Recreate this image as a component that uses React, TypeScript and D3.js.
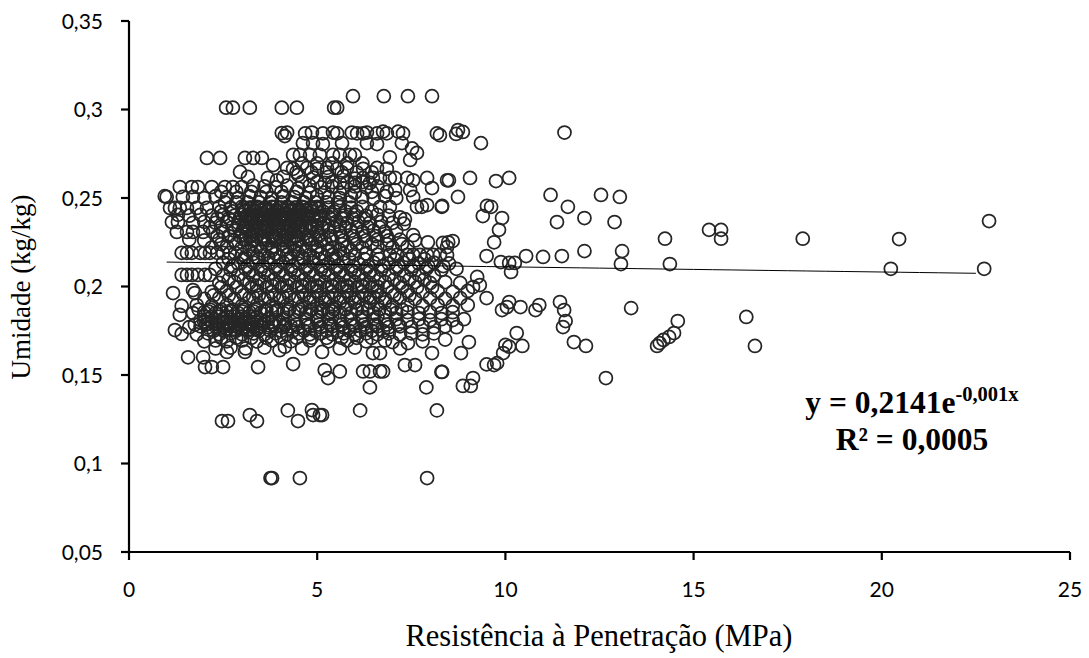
import React from 'react';
import * as d3 from 'd3';

// ---- tick values / labels ----
const xTicks = [0, 5, 10, 15, 20, 25];
const xTickLabels = ['0', '5', '10', '15', '20', '25'];
const yTicks = [0.05, 0.1, 0.15, 0.2, 0.25, 0.3, 0.35];
const yTickLabels = ['0,05', '0,1', '0,15', '0,2', '0,25', '0,3', '0,35'];

// ---- trend line (exponential fit) ----
const trendA = 0.2141;
const trendB = -0.0014;
const trendRange = [1.0, 22.7];

// ---- data: [Resistência (MPa), Umidade (kg/kg)] ----
const pontosTopo: [number, number][] = [
  [2.58,0.301],[2.76,0.301],[3.21,0.301],[4.06,0.301],[4.46,0.301],[5.45,0.301],[5.53,0.301],
  [5.95,0.3075],[6.77,0.3075],[7.41,0.3075],[8.05,0.3075],
  [4.06,0.2867],[4.14,0.285],[4.2,0.287],[4.68,0.2865],[4.86,0.287],[5.15,0.2865],[5.42,0.287],[5.53,0.2865],[5.92,0.287],[6.06,0.2865],[6.22,0.2865],[6.32,0.287],[6.59,0.2865],[6.75,0.2875],[6.85,0.2865],[7.15,0.2875],[7.28,0.2865],[8.18,0.2865],[8.26,0.2855],[8.74,0.2884],[8.87,0.2873],[8.69,0.2862],
  [4.62,0.281],[4.89,0.281],[5.15,0.2805],[5.66,0.281],[6.32,0.281],[6.59,0.2805],[7.25,0.281],[7.52,0.278],[7.65,0.2755],[9.35,0.281],[11.57,0.287],
  [2.07,0.2726],[2.42,0.2726],[3.08,0.2726],[3.3,0.2726],[3.53,0.2726],[4.36,0.2743],[4.54,0.2743],[4.81,0.2743],[5.07,0.2743],[5.42,0.2743],[5.6,0.2743],[5.87,0.2743],[6.0,0.2743],[6.93,0.273],[7.47,0.2715],
  [4.6,0.2695],[5.0,0.2695],[5.4,0.2695],[5.8,0.2695],[6.2,0.2695],
];

const pontosSuperior: [number, number][] = [
  [3.83,0.2686],[2.95,0.2647],[3.16,0.2619],[3.69,0.2613],[3.93,0.26],[4.2,0.267],[4.36,0.2665],[4.73,0.267],[5.0,0.2665],[5.26,0.267],[5.53,0.2665],[5.79,0.267],[6.22,0.2665],[6.59,0.267],[6.85,0.2665],
  [4.1,0.262],[4.5,0.263],[4.9,0.2615],[5.3,0.262],[5.7,0.2625],[6.0,0.261],
  [6.22,0.2613],[6.48,0.2613],[6.67,0.2613],[6.93,0.2613],[7.07,0.2613],[7.39,0.2613],[7.55,0.26],[7.92,0.2613],[8.45,0.26],[8.5,0.26],[9.06,0.2613],[9.75,0.2596],[10.1,0.2613],
  [5.2,0.2585],[5.6,0.2585],[6.0,0.2585],[6.4,0.2585],
  [1.35,0.2562],[1.67,0.2562],[1.83,0.2562],[2.2,0.2562],[2.55,0.2562],[2.76,0.2562],[3.0,0.2562],[3.3,0.257],[3.6,0.2565],[3.9,0.256],[4.2,0.257],[4.5,0.2555],[4.8,0.257],[5.1,0.256],[5.4,0.2565],[5.7,0.2555],[6.0,0.2565],[6.3,0.256],[6.6,0.2565],[7.07,0.2545],[7.47,0.2545],[8.05,0.2556],
  [4.6,0.259],[5.0,0.259],[5.4,0.259],[5.8,0.259],[6.2,0.259],[4.8,0.253],[5.2,0.253],[5.6,0.253],[6.0,0.253],
  [1.0,0.2506],[0.95,0.251],[1.43,0.2506],[1.7,0.2506],[2.0,0.25],[2.3,0.251],[2.6,0.2505],[2.9,0.25],[3.2,0.251],[3.5,0.2505],[3.8,0.25],[4.1,0.251],[4.4,0.2505],[4.7,0.25],[5.0,0.251],[5.3,0.2505],[5.6,0.25],[5.9,0.251],[6.2,0.2505],[6.5,0.25],[6.8,0.251],[7.1,0.25],[7.55,0.2506],[8.74,0.2506],[11.2,0.2517],[12.54,0.2517],[13.04,0.2506],
];

const pontosMedio: [number, number][] = [
  [1.09,0.2444],[1.22,0.2444],[1.35,0.2444],[1.54,0.2444],[1.8,0.2444],[2.07,0.2444],[2.4,0.245],[2.7,0.2445],[3.0,0.245],[3.2,0.2445],[3.4,0.245],[3.6,0.2445],[3.8,0.245],[4.0,0.2445],[4.2,0.245],[4.4,0.2445],[4.6,0.245],[4.8,0.2445],[5.0,0.245],[5.3,0.2445],[5.6,0.245],[5.9,0.2445],[6.2,0.245],[6.67,0.245],[6.93,0.245],[7.65,0.245],[7.78,0.245],[7.92,0.246],[8.31,0.245],[8.32,0.2455],[9.51,0.2455],[9.62,0.245],[11.66,0.245],
  [1.3,0.2405],[1.6,0.24],[1.9,0.2405],[2.2,0.24],[2.5,0.2405],[2.8,0.24],[3.0,0.2405],[3.15,0.24],[3.3,0.2405],[3.45,0.24],[3.6,0.2405],[3.75,0.24],[3.9,0.2405],[4.05,0.24],[4.2,0.2405],[4.35,0.24],[4.5,0.2405],[4.7,0.24],[4.9,0.2405],[5.1,0.24],[5.4,0.2405],[5.7,0.24],[6.0,0.2405],[6.3,0.24],[6.6,0.2405],[6.9,0.24],[7.2,0.239],[7.33,0.238],[9.4,0.2398],[9.91,0.2387],[12.1,0.2387],
  [1.14,0.2364],[1.3,0.2364],[1.7,0.236],[2.0,0.2365],[2.3,0.236],[2.6,0.2365],[2.9,0.236],[3.1,0.2365],[3.25,0.236],[3.4,0.2365],[3.55,0.236],[3.7,0.2365],[3.85,0.236],[4.0,0.2365],[4.15,0.236],[4.3,0.2365],[4.45,0.236],[4.6,0.2365],[4.8,0.236],[5.0,0.2365],[5.2,0.236],[5.5,0.2365],[5.8,0.236],[6.1,0.2365],[6.4,0.236],[6.7,0.2365],[7.0,0.236],[7.3,0.2355],[11.37,0.2364],[12.9,0.2364],
  [3.1,0.243],[3.3,0.243],[3.5,0.243],[3.7,0.243],[3.9,0.243],[4.1,0.243],[4.3,0.243],[4.5,0.243],[4.7,0.243],
  [3.2,0.238],[3.4,0.238],[3.6,0.238],[3.8,0.238],[4.0,0.238],[4.2,0.238],[4.4,0.238],[4.6,0.238],
  [3.1,0.2335],[3.3,0.2335],[3.5,0.2335],[3.7,0.2335],[3.9,0.2335],[4.1,0.2335],[4.3,0.2335],[4.5,0.2335],[4.7,0.2335],
  [3.2,0.2285],[3.4,0.2285],[3.6,0.2285],[3.8,0.2285],[4.0,0.2285],[4.2,0.2285],[4.4,0.2285],
  [1.27,0.2308],[1.54,0.2308],[1.7,0.2308],[1.97,0.2308],[2.23,0.2308],[2.5,0.231],[2.8,0.2315],[3.0,0.231],[3.2,0.2315],[3.4,0.231],[3.6,0.2315],[3.8,0.231],[4.0,0.2315],[4.2,0.231],[4.4,0.2315],[4.6,0.231],[4.8,0.2315],[5.0,0.231],[5.3,0.2315],[5.6,0.231],[5.9,0.2315],[6.2,0.231],[6.5,0.2315],[6.8,0.231],[7.1,0.2315],[7.55,0.229],[9.83,0.232],[15.41,0.232],[15.73,0.232],
  [1.6,0.2265],[2.0,0.226],[2.4,0.2265],[2.8,0.226],[3.1,0.2265],[3.3,0.226],[3.5,0.2265],[3.7,0.226],[3.9,0.2265],[4.1,0.226],[4.3,0.2265],[4.5,0.226],[4.8,0.2265],[5.1,0.226],[5.4,0.2265],[5.7,0.226],[6.0,0.2265],[6.3,0.226],[6.6,0.2265],[6.9,0.226],[7.2,0.2265],[7.6,0.226],[7.94,0.225],[8.34,0.2246],[8.45,0.2223],[8.48,0.225],[8.6,0.2257],[9.7,0.225],[14.24,0.227],[15.73,0.227],[17.9,0.227],[20.46,0.2268],
  [2.2,0.222],[2.6,0.2225],[3.0,0.222],[3.4,0.2225],[3.8,0.222],[4.2,0.2225],[4.6,0.222],[5.0,0.2225],[5.4,0.222],[5.8,0.2225],[6.2,0.222],[6.6,0.2225],[7.0,0.222],[7.4,0.2225],[12.1,0.22],[13.1,0.22],[22.85,0.237],
];

const pontosCentro: [number, number][] = [
  [1.4,0.219],[1.54,0.219],[1.67,0.219],[1.89,0.219],[2.02,0.219],[2.15,0.219],[2.34,0.219],[2.5,0.219],[2.68,0.219],[2.82,0.219],[3.0,0.218],[3.3,0.2185],[3.6,0.218],[3.9,0.2185],[4.2,0.218],[4.5,0.2185],[4.8,0.218],[5.1,0.2185],[5.4,0.218],[5.7,0.2185],[6.0,0.218],[6.3,0.2185],[6.6,0.218],[6.93,0.2178],[7.12,0.2178],[7.39,0.2178],[7.55,0.2178],[7.73,0.2178],[7.92,0.2178],[8.08,0.2178],[8.26,0.2178],[8.45,0.2178],[9.5,0.2172],[10.55,0.2172],[11.0,0.2167],[11.5,0.2172],
  [2.5,0.2135],[2.9,0.213],[3.3,0.2135],[3.7,0.213],[4.1,0.2135],[4.5,0.213],[4.9,0.2135],[5.3,0.213],[5.7,0.2135],[6.1,0.213],[6.5,0.2135],[6.9,0.213],[7.3,0.2135],[7.7,0.213],[8.1,0.2135],[8.5,0.213],[9.88,0.2138],[10.1,0.2133],[10.25,0.2133],[13.07,0.2127],[14.37,0.2127],
  [2.3,0.21],[2.7,0.2095],[3.1,0.21],[3.5,0.2095],[3.9,0.21],[4.3,0.2095],[4.7,0.21],[5.1,0.2095],[5.5,0.21],[5.9,0.2095],[6.3,0.21],[6.7,0.2095],[7.1,0.21],[7.5,0.2095],[7.9,0.21],[8.3,0.2095],[8.7,0.21],[10.15,0.2082],[20.24,0.21],[22.72,0.21],
  [1.4,0.2065],[1.54,0.2065],[1.67,0.2065],[1.83,0.2065],[2.02,0.2065],[2.15,0.2065],[2.5,0.206],[2.9,0.2065],[3.3,0.206],[3.7,0.2065],[4.1,0.206],[4.5,0.2065],[4.9,0.206],[5.3,0.2065],[5.7,0.206],[6.1,0.2065],[6.5,0.206],[6.9,0.2065],[7.3,0.206],[7.7,0.2065],[8.1,0.206],[9.25,0.2054],
  [2.4,0.202],[2.8,0.2025],[3.2,0.202],[3.6,0.2025],[4.0,0.202],[4.4,0.2025],[4.8,0.202],[5.2,0.2025],[5.6,0.202],[6.0,0.2025],[6.4,0.202],[6.8,0.2025],[7.2,0.202],[7.6,0.2025],[8.0,0.202],[8.4,0.2025],[8.8,0.202],[9.14,0.1997],[9.32,0.2008],
  [4.6,0.2],[5.0,0.2],[5.4,0.2],[5.8,0.2],[6.2,0.2],[6.6,0.2],
  [1.17,0.1963],[1.7,0.198],[1.75,0.1963],[2.2,0.197],[2.6,0.1975],[3.0,0.197],[3.4,0.1975],[3.8,0.197],[4.2,0.1975],[4.6,0.197],[5.0,0.1975],[5.4,0.197],[5.8,0.1975],[6.2,0.197],[6.6,0.1975],[7.0,0.197],[7.4,0.1975],[7.8,0.197],[8.2,0.1975],[8.6,0.197],[9.0,0.1975],
  [2.0,0.193],[2.4,0.1935],[2.8,0.193],[3.2,0.1935],[3.6,0.193],[4.0,0.1935],[4.4,0.193],[4.8,0.1935],[5.2,0.193],[5.6,0.1935],[6.0,0.193],[6.4,0.1935],[6.8,0.193],[7.2,0.1935],[7.6,0.193],[8.0,0.1935],[8.4,0.193],[8.8,0.1935],[9.5,0.1935],[10.1,0.1912],[11.45,0.1912],
  [4.8,0.191],[5.2,0.191],[5.6,0.191],[6.0,0.191],[6.4,0.191],[6.8,0.191],
];

const pontosInferior: [number, number][] = [
  [1.4,0.189],[1.8,0.1895],[2.2,0.189],[2.6,0.1895],[3.0,0.189],[3.4,0.1895],[3.8,0.189],[4.2,0.1895],[4.6,0.189],[5.0,0.1895],[5.4,0.189],[5.8,0.1895],[6.2,0.189],[6.6,0.1895],[7.0,0.189],[7.4,0.1895],[7.8,0.189],[8.2,0.1895],[8.6,0.189],[9.0,0.1895],[10.04,0.1884],[10.4,0.1884],[10.9,0.1895],[13.34,0.1878],
  [1.35,0.184],[1.7,0.185],[2.0,0.1855],[2.3,0.185],[2.6,0.1855],[2.9,0.185],[3.2,0.1855],[3.5,0.185],[3.8,0.1855],[4.1,0.185],[4.4,0.1855],[4.7,0.185],[5.0,0.1855],[5.3,0.185],[5.6,0.1855],[5.9,0.185],[6.2,0.1855],[6.5,0.185],[6.8,0.1855],[7.1,0.185],[7.4,0.1855],[7.7,0.185],[8.0,0.1855],[8.3,0.185],[8.6,0.1855],[9.91,0.1867],[10.8,0.1867],[11.56,0.1867],
  [2.0,0.183],[2.2,0.183],[2.4,0.183],[2.6,0.183],[2.8,0.183],[3.0,0.183],[3.2,0.183],[3.4,0.183],
  [5.0,0.183],[5.4,0.183],[5.8,0.183],[6.2,0.183],[6.6,0.183],
  [1.9,0.181],[2.1,0.1815],[2.3,0.181],[2.5,0.1815],[2.7,0.181],[2.9,0.1815],[3.1,0.181],[3.3,0.1815],[3.5,0.181],[3.7,0.1815],[3.9,0.181],[4.1,0.1815],[4.4,0.181],[4.7,0.1815],[5.0,0.181],[5.3,0.1815],[5.6,0.181],[5.9,0.1815],[6.2,0.181],[6.5,0.1815],[6.8,0.181],[7.1,0.1815],[7.4,0.181],[7.7,0.1815],[8.0,0.181],[8.3,0.1815],[8.6,0.181],[8.9,0.1815],[11.6,0.1805],[14.58,0.1805],[16.4,0.1828],
  [2.1,0.179],[2.3,0.179],[2.5,0.179],[2.7,0.179],[2.9,0.179],[3.1,0.179],[3.3,0.179],
  [1.6,0.177],[1.9,0.1775],[2.1,0.177],[2.3,0.1775],[2.5,0.177],[2.7,0.1775],[2.9,0.177],[3.1,0.1775],[3.3,0.177],[3.5,0.1775],[3.7,0.177],[3.9,0.1775],[4.1,0.177],[4.3,0.1775],[4.5,0.177],[4.8,0.1775],[5.1,0.177],[5.4,0.1775],[5.7,0.177],[6.0,0.1775],[6.3,0.177],[6.6,0.1775],[6.9,0.177],[7.2,0.1775],[7.5,0.177],[7.8,0.1775],[8.1,0.177],[8.4,0.1775],[8.7,0.177],[11.53,0.1771],
  [1.22,0.1754],[1.4,0.1732],[1.8,0.173],[2.1,0.1735],[2.4,0.173],[2.7,0.1735],[3.0,0.173],[3.3,0.1735],[3.6,0.173],[3.9,0.1735],[4.2,0.173],[4.5,0.1735],[4.8,0.173],[5.1,0.1735],[5.4,0.173],[5.7,0.1735],[6.0,0.173],[6.3,0.1735],[6.6,0.173],[6.9,0.1735],[7.2,0.173],[7.5,0.1735],[7.8,0.173],[8.1,0.1735],[10.3,0.1737],[14.48,0.1737],[14.35,0.1715],
  [2.0,0.169],[2.3,0.1695],[2.6,0.169],[3.0,0.1695],[3.4,0.169],[3.8,0.1695],[4.3,0.169],[4.8,0.1695],[5.3,0.169],[5.8,0.1695],[6.3,0.169],[6.8,0.1695],[7.0,0.1686],[7.41,0.168],[7.8,0.169],[8.4,0.17],[9.03,0.1686],[11.82,0.1686],[14.2,0.1698],[14.1,0.168],
  [2.3,0.165],[2.7,0.1655],[3.1,0.165],[3.6,0.1655],[4.0,0.164],[4.14,0.166],[4.6,0.165],[5.13,0.163],[5.6,0.165],[6.0,0.1655],[6.48,0.1624],[6.67,0.1624],[7.2,0.165],[8.05,0.1624],[8.82,0.1624],[10.0,0.167],[10.1,0.166],[10.45,0.1664],[9.94,0.1624],[12.14,0.1664],[14.03,0.1664],[16.63,0.1664],
];

const pontosDensos: [number, number][] = [
  [4.45,0.2645],[4.85,0.2645],[5.25,0.2645],[5.65,0.2645],[6.05,0.2645],[6.45,0.2645],
  [2.45,0.2535],[2.85,0.2535],[3.25,0.2535],[3.65,0.2535],[4.05,0.2535],[4.45,0.2535],[6.45,0.2535],[6.85,0.2535],
  [2.55,0.2475],[2.85,0.2475],[3.15,0.2475],[3.45,0.2475],[3.75,0.2475],[4.05,0.2475],[4.35,0.2475],[4.65,0.2475],[4.95,0.2475],[5.25,0.2475],[5.55,0.2475],[5.85,0.2475],
  [2.45,0.2425],[2.75,0.2425],[3.05,0.2425],[3.35,0.2425],[3.65,0.2425],[3.95,0.2425],[4.25,0.2425],[4.55,0.2425],[4.85,0.2425],[5.15,0.2425],[5.45,0.2425],[5.75,0.2425],[6.05,0.2425],[6.45,0.2425],
  [2.35,0.2385],[2.65,0.2385],[2.95,0.2385],[3.25,0.2385],[3.55,0.2385],[3.85,0.2385],[4.15,0.2385],[4.45,0.2385],[4.75,0.2385],[5.05,0.2385],[5.35,0.2385],[5.65,0.2385],[5.95,0.2385],[6.25,0.2385],
  [2.15,0.2335],[2.45,0.2335],[2.75,0.2335],[3.05,0.2335],[3.35,0.2335],[3.65,0.2335],[3.95,0.2335],[4.25,0.2335],[4.55,0.2335],[4.85,0.2335],[5.15,0.2335],[5.45,0.2335],[5.75,0.2335],[6.05,0.2335],[6.35,0.2335],[6.65,0.2335],
  [2.35,0.2285],[2.65,0.2285],[2.95,0.2285],[3.25,0.2285],[3.55,0.2285],[3.85,0.2285],[4.15,0.2285],[4.45,0.2285],[4.75,0.2285],[5.05,0.2285],[5.35,0.2285],[5.65,0.2285],[5.95,0.2285],[6.25,0.2285],[6.55,0.2285],[6.85,0.2285],
  [2.45,0.224],[2.85,0.224],[3.25,0.224],[3.65,0.224],[4.05,0.224],[4.45,0.224],[4.85,0.224],[5.25,0.224],[5.65,0.224],[6.05,0.224],[6.45,0.224],[6.85,0.224],[7.25,0.224],
  [2.65,0.2155],[3.05,0.2155],[3.45,0.2155],[3.85,0.2155],[4.25,0.2155],[4.65,0.2155],[5.05,0.2155],[5.45,0.2155],[5.85,0.2155],[6.25,0.2155],[6.65,0.2155],[7.05,0.2155],[7.45,0.2155],[7.85,0.2155],
  [2.75,0.2115],[3.15,0.2115],[3.55,0.2115],[3.95,0.2115],[4.35,0.2115],[4.75,0.2115],[5.15,0.2115],[5.55,0.2115],[5.95,0.2115],[6.35,0.2115],[6.75,0.2115],[7.15,0.2115],[7.55,0.2115],[7.95,0.2115],[8.35,0.2115],
  [2.65,0.204],[3.05,0.204],[3.45,0.204],[3.85,0.204],[4.25,0.204],[4.65,0.204],[5.05,0.204],[5.45,0.204],[5.85,0.204],[6.25,0.204],[6.65,0.204],[7.05,0.204],[7.45,0.204],[7.85,0.204],
  [2.45,0.1995],[2.85,0.1995],[3.25,0.1995],[3.65,0.1995],[4.05,0.1995],[4.45,0.1995],[4.85,0.1995],[5.25,0.1995],[5.65,0.1995],[6.05,0.1995],[6.45,0.1995],[6.85,0.1995],[7.25,0.1995],[7.65,0.1995],[8.05,0.1995],
  [2.25,0.195],[2.65,0.195],[3.05,0.195],[3.45,0.195],[3.85,0.195],[4.25,0.195],[4.65,0.195],[5.05,0.195],[5.45,0.195],[5.85,0.195],[6.25,0.195],[6.65,0.195],[7.05,0.195],[7.45,0.195],
  [1.85,0.187],[2.15,0.187],[2.45,0.187],[2.75,0.187],[3.05,0.187],[3.35,0.187],[3.65,0.187],[3.95,0.187],[4.25,0.187],[4.55,0.187],[4.85,0.187],[5.15,0.187],[5.45,0.187],[5.75,0.187],[6.05,0.187],[6.35,0.187],[6.65,0.187],[6.95,0.187],[7.25,0.187],
  [1.75,0.1785],[2.05,0.1785],[2.35,0.1785],[2.65,0.1785],[2.95,0.1785],[3.25,0.1785],[3.55,0.1785],[3.85,0.1785],[4.15,0.1785],[4.45,0.1785],[4.75,0.1785],[5.05,0.1785],[5.35,0.1785],[5.65,0.1785],[5.95,0.1785],[6.25,0.1785],[6.55,0.1785],[6.85,0.1785],[7.15,0.1785],
  [2.25,0.175],[2.55,0.175],[2.85,0.175],[3.15,0.175],[3.45,0.175],[3.75,0.175],[4.05,0.175],[4.35,0.175],[4.65,0.175],[4.95,0.175],[5.25,0.175],[5.55,0.175],[5.85,0.175],[6.15,0.175],[6.45,0.175],[6.75,0.175],
  [2.45,0.171],[2.85,0.171],[3.25,0.171],[3.65,0.171],[4.05,0.171],[4.45,0.171],[4.85,0.171],[5.25,0.171],[5.65,0.171],[6.05,0.171],[6.45,0.171],
];

const pontosNucleo: [number, number][] = [
  [3.05,0.2445],[3.25,0.2445],[3.45,0.2445],[3.65,0.2445],[3.85,0.2445],[4.05,0.2445],[4.25,0.2445],[4.45,0.2445],[4.65,0.2445],[4.85,0.2445],[5.05,0.2445],
  [3.1,0.2395],[3.3,0.2395],[3.5,0.2395],[3.7,0.2395],[3.9,0.2395],[4.1,0.2395],[4.3,0.2395],[4.5,0.2395],[4.7,0.2395],[4.9,0.2395],[5.1,0.2395],[5.3,0.2395],
  [2.9,0.2345],[3.15,0.2345],[3.4,0.2345],[3.6,0.2345],[3.8,0.2345],[4.0,0.2345],[4.2,0.2345],[4.4,0.2345],[4.6,0.2345],[4.8,0.2345],[5.0,0.2345],[5.3,0.2345],[5.6,0.2345],
  [3.05,0.2265],[3.35,0.2265],[3.6,0.2265],[3.85,0.2265],[4.05,0.2265],[4.25,0.2265],[4.5,0.2265],[4.7,0.2265],[4.95,0.2265],[5.2,0.2265],
  [3.2,0.2205],[3.5,0.2205],[3.8,0.2205],[4.1,0.2205],[4.4,0.2205],[4.7,0.2205],[5.0,0.2205],[5.3,0.2205],[5.6,0.2205],[5.9,0.2205],
  [3.1,0.2165],[3.4,0.2165],[3.7,0.2165],[4.0,0.2165],[4.3,0.2165],[4.6,0.2165],[4.9,0.2165],[5.2,0.2165],[5.5,0.2165],
  [3.2,0.208],[3.6,0.208],[4.0,0.208],[4.4,0.208],[4.8,0.208],[5.2,0.208],[5.6,0.208],[6.0,0.208],[6.4,0.208],
  [3.4,0.2005],[3.8,0.2005],[4.2,0.2005],[4.6,0.2005],[5.0,0.2005],[5.4,0.2005],[5.8,0.2005],[6.2,0.2005],
  [3.3,0.194],[3.7,0.194],[4.1,0.194],[4.5,0.194],[4.9,0.194],[5.3,0.194],[5.7,0.194],[6.1,0.194],[6.5,0.194],
  [2.1,0.186],[2.4,0.186],[2.7,0.186],[3.0,0.186],[3.3,0.186],[3.6,0.186],[3.9,0.186],[4.2,0.186],[4.5,0.186],[4.8,0.186],[5.1,0.186],[5.4,0.186],
  [2.0,0.18],[2.2,0.18],[2.4,0.18],[2.6,0.18],[2.8,0.18],[3.0,0.18],[3.2,0.18],[3.4,0.18],[3.6,0.18],[3.8,0.18],[4.0,0.18],
  [2.4,0.176],[2.6,0.176],[2.8,0.176],[3.0,0.176],[3.2,0.176],[3.4,0.176],
];

const pontosBaixos: [number, number][] = [
  [1.57,0.16],[1.97,0.16],[2.6,0.163],[3.08,0.163],[2.02,0.1545],[2.2,0.1545],[2.5,0.1545],[3.43,0.1545],[4.36,0.1562],[5.2,0.1528],[5.29,0.1483],[5.6,0.152],[6.22,0.152],[6.4,0.152],[6.67,0.152],[6.75,0.152],[6.4,0.143],[7.33,0.1556],[7.6,0.1556],[8.32,0.1517],[8.3,0.1517],[7.9,0.143],[9.5,0.156],[9.7,0.1556],[9.78,0.1567],[9.14,0.1483],[8.87,0.1438],[9.08,0.1438],[12.67,0.1483],
  [4.22,0.13],[2.47,0.124],[2.63,0.124],[3.21,0.1274],[3.4,0.124],[4.49,0.124],[4.86,0.1302],[4.89,0.1274],[5.07,0.1274],[5.13,0.1274],[6.14,0.13],[8.18,0.13],
  [3.76,0.0918],[3.8,0.0918],[4.54,0.0918],[7.92,0.0918],
];

const pontos = [...pontosTopo, ...pontosSuperior, ...pontosMedio, ...pontosCentro, ...pontosDensos, ...pontosNucleo, ...pontosInferior, ...pontosBaixos];

const W = 1089;
const H = 658;

export default function App() {
  const x = d3.scaleLinear().domain([0, 25]).range([129, 1070]);
  const y = d3.scaleLinear().domain([0.05, 0.35]).range([552, 21]);
  const trendXs = d3.range(trendRange[0], trendRange[1] + 0.001, 0.5);
  const line = d3.line<number>().x((d) => x(d)).y((d) => y(trendA * Math.exp(trendB * d)));
  const tickFont = 'Lato, "Open Sans", sans-serif';
  const serif = '"Liberation Serif", "Times New Roman", serif';
  return (
    <div style={{ position: 'absolute', left: 0, top: 0 }}>
      <svg width={W} height={H} viewBox={`0 0 ${W} ${H}`} style={{ display: 'block', background: '#fff' }}>
        <rect x={0} y={0} width={W} height={H} fill="#fff" />
        {/* points */}
        <g fill="none" stroke="#262626" strokeWidth={1.75}>
          {pontos.map((p, i) => (
            <circle key={i} cx={x(p[0])} cy={y(p[1])} r={6.5} />
          ))}
        </g>
        {/* trend line */}
        <path d={line(trendXs) || ''} fill="none" stroke="#000" strokeWidth={1} />
        {/* axes */}
        <g stroke="#000" strokeWidth={2.2} fill="none">
          <line x1={x(0)} y1={y(0.35)} x2={x(0)} y2={y(0.05)} />
          <line x1={x(0) - 8} y1={y(0.05)} x2={x(25)} y2={y(0.05)} />
          {yTicks.map((t) => (
            <line key={'yt' + t} x1={x(0) - 8} x2={x(0)} y1={y(t)} y2={y(t)} />
          ))}
          {xTicks.map((t) => (
            <line key={'xt' + t} x1={x(t)} x2={x(t)} y1={y(0.05)} y2={y(0.05) + 8} />
          ))}
        </g>
        <g fontFamily={tickFont} fontSize={21} fill="#000">
          {yTicks.map((t, i) => (
            <text key={'yl' + t} x={103} y={y(t) + 7.5} textAnchor="end">{yTickLabels[i]}</text>
          ))}
          {xTicks.map((t, i) => (
            <text key={'xl' + t} x={x(t)} y={597} textAnchor="middle">{xTickLabels[i]}</text>
          ))}
        </g>
        <text transform="translate(30,287) rotate(-90)" textAnchor="middle" fontFamily={serif} fontSize={27} fill="#000">
          Umidade (kg/kg)
        </text>
        <text x={599} y={646} textAnchor="middle" fontFamily={serif} fontSize={30.5} fill="#000">
          Resistência à Penetração (MPa)
        </text>
        <text x={912} y={413} textAnchor="middle" fontFamily={serif} fontSize={31.5} fontWeight="bold" fill="#000">
          y = 0,2141e<tspan fontSize={20.5} dy={-12}>-0,001x</tspan>
        </text>
        <text x={912} y={450} textAnchor="middle" fontFamily={serif} fontSize={31.5} fontWeight="bold" fill="#000">
          R² = 0,0005
        </text>
      </svg>
    </div>
  );
}
